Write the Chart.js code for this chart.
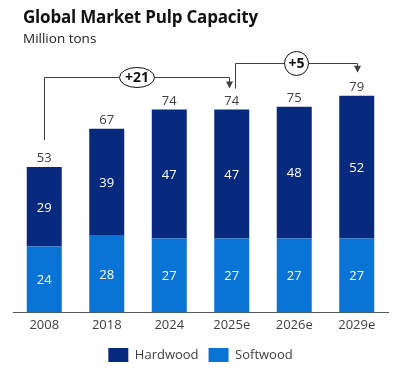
<!DOCTYPE html>
<html>
<head>
<meta charset="utf-8">
<script src="https://cdn.jsdelivr.net/npm/chart.js@4"></script>
<style>
  html, body { margin: 0; padding: 0; background: #fff; }
  #wrap { position: relative; width: 402px; height: 372px; overflow: hidden; }
  #title { position: absolute; left: 23px; top: 5px; font-family: "Open Sans", sans-serif; font-weight: 700; font-size: 17px; color: #111; white-space: nowrap; letter-spacing: -0.2px; }
  #subtitle { position: absolute; left: 23px; top: 29px; font-family: "Open Sans", sans-serif; font-size: 13.5px; color: #222; white-space: nowrap; }
  canvas { position: absolute; left: 0; top: 0; }
</style>
</head>
<body>
<div id="wrap">
  <canvas id="c" width="402" height="372"></canvas>
  <div id="title">Global Market Pulp Capacity</div>
  <div id="subtitle">Million tons</div>
</div>
<script>
const categories = ['2008', '2018', '2024', '2025e', '2026e', '2029e'];
const hardwood = [29, 39, 47, 47, 48, 52];
const softwood = [24, 28, 27, 27, 27, 27];
const totals = [53, 67, 74, 74, 75, 79];
const growthFrom = [0, 3];
const growthTo = [3, 5];
const growthLabels = ['+21', '+5'];

const FONT = '"Open Sans", sans-serif';
const GRAY = '#404040';

const labelPlugin = {
  id: 'labels',
  afterDatasetsDraw(chart) {
    const ctx = chart.ctx;
    const soft = chart.getDatasetMeta(0).data;
    const hard = chart.getDatasetMeta(1).data;
    ctx.save();
    ctx.textAlign = 'center';
    for (let i = 0; i < categories.length; i++) {
      const s = soft[i], h = hard[i];
      ctx.font = '13px ' + FONT;
      ctx.fillStyle = '#ffffff';
      ctx.textBaseline = 'middle';
      ctx.fillText(String(softwood[i]), s.x, (s.y + s.base) / 2 + 1);
      ctx.fillText(String(hardwood[i]), h.x, (h.y + h.base) / 2 + 1);
      ctx.fillStyle = GRAY;
      ctx.textBaseline = 'alphabetic';
      ctx.fillText(String(totals[i]), h.x, h.y - 5);
    }
    // growth brackets
    ctx.lineWidth = 1;
    for (let k = 0; k < growthLabels.length; k++) {
      const a = growthFrom[k], b = growthTo[k];
      let minTop = Infinity;
      for (let i = a; i <= b; i++) minTop = Math.min(minTop, hard[i].y);
      const level = Math.round(minTop - 33) + 0.5;
      const xStart = Math.round(hard[a].x + (k > 0 ? 3 : 0)) + 0.5;
      const yStart = hard[a].y - (k > 0 ? 21 : 27);
      const xEnd = Math.round(hard[b].x - (b === growthFrom[k + 1] ? 3 : 0)) + 0.5;
      const yEnd = hard[b].y - (k > 0 ? 23 : 21);
      ctx.strokeStyle = GRAY;
      ctx.fillStyle = GRAY;
      ctx.beginPath();
      ctx.moveTo(xStart, yStart);
      ctx.lineTo(xStart, level);
      ctx.lineTo(xEnd, level);
      ctx.lineTo(xEnd, yEnd - 6);
      ctx.stroke();
      ctx.beginPath();
      ctx.moveTo(xEnd - 3.5, yEnd - 7);
      ctx.lineTo(xEnd + 3.5, yEnd - 7);
      ctx.lineTo(xEnd, yEnd);
      ctx.closePath();
      ctx.fill();
      const cx = (xStart + xEnd) / 2;
      const rx = growthLabels[k].length > 2 ? 17.5 : 12;
      const ry = growthLabels[k].length > 2 ? 10 : 12;
      ctx.beginPath();
      ctx.ellipse(cx, level, rx, ry, 0, 0, Math.PI * 2);
      ctx.fillStyle = '#ffffff';
      ctx.fill();
      ctx.strokeStyle = '#111';
      ctx.stroke();
      ctx.fillStyle = '#111';
      ctx.font = 'bold 14px ' + FONT;
      ctx.textBaseline = 'middle';
      ctx.fillText(growthLabels[k], cx, level + 1);
    }
    ctx.restore();
  }
};

new Chart(document.getElementById('c'), {
  type: 'bar',
  data: {
    labels: categories,
    datasets: [
      { label: 'Softwood', data: softwood, backgroundColor: '#0A73D6', borderWidth: 0 },
      { label: 'Hardwood', data: hardwood, backgroundColor: '#07297E', borderWidth: 0 }
    ]
  },
  options: {
    responsive: false,
    animation: false,
    layout: { padding: { left: 13, right: 14, top: 52, bottom: 0 } },
    datasets: { bar: { barPercentage: 0.56, categoryPercentage: 1.0 } },
    scales: {
      x: {
        stacked: true,
        grid: { display: false, drawTicks: false },
        border: { display: true, color: '#595959', width: 1 },
        ticks: { color: GRAY, font: { family: FONT, size: 13 }, padding: 5 }
      },
      y: {
        stacked: true,
        display: false,
        min: 0,
        max: 95
      }
    },
    plugins: {
      legend: {
        position: 'bottom',
        reverse: true,
        labels: {
          boxWidth: 20, boxHeight: 14,
          color: GRAY,
          font: { family: FONT, size: 13 },
          padding: 10
        }
      },
      tooltip: { enabled: false },
      title: { display: false }
    }
  },
  plugins: [labelPlugin]
});
</script>
</body>
</html>
